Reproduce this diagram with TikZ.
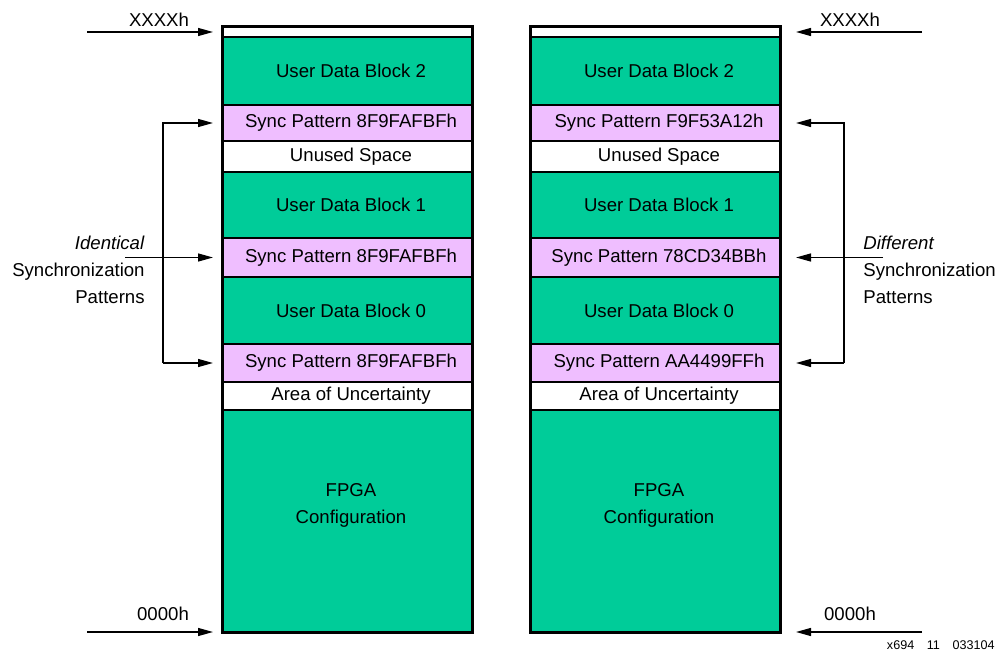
\documentclass[tikz,border=0pt]{standalone}
\usepackage{fontspec}
\setmainfont{Liberation Sans}
\usepackage{tikz}
\usetikzlibrary{arrows.meta, positioning}
\definecolor{BlockGreen}{HTML}{00CC99}
\definecolor{SyncPink}{HTML}{EFBEFF}

\begin{document}
\begin{tikzpicture}[
  x=0.5pt, y=-0.5pt,
  every node/.style={font=\fontsize{9.3}{13.5}\selectfont},
  cell/.style={rectangle, draw, line width=1pt, inner sep=0pt, outer sep=0pt,
               minimum width=125pt, align=center,
               execute at begin node={\hspace*{4pt}}},
  udb/.style={cell, fill=BlockGreen},
  sync/.style={cell, fill=SyncPink},
  blank/.style={cell, fill=white},
  frame/.style={draw, line width=1.5pt},
  arr/.style={-{Triangle[length=7.5pt, width=4pt]}, line width=0.65pt},
  addr/.style={inner sep=0pt},
  note/.style={inner sep=0pt}
]
\useasboundingbox (0,0) rectangle (996,652);

% Left column
\node[blank, minimum height=5pt, anchor=north west] (topL) at (222,27) {};
\node[udb, minimum height=34pt, below=0pt of topL] (udbTwoL) {User Data Block 2};
\node[sync, minimum height=18pt, below=0pt of udbTwoL] (syncAL) {Sync Pattern 8F9FAFBFh};
\node[blank, minimum height=15.5pt, below=0pt of syncAL] (unusedL) {Unused Space};
\node[udb, minimum height=33pt, below=0pt of unusedL] (udbOneL) {User Data Block 1};
\node[sync, minimum height=19.5pt, below=0pt of udbOneL] (syncBL) {Sync Pattern 8F9FAFBFh};
\node[udb, minimum height=33.5pt, below=0pt of syncBL] (udbZeroL) {User Data Block 0};
\node[sync, minimum height=19pt, below=0pt of udbZeroL] (syncCL) {Sync Pattern 8F9FAFBFh};
\node[blank, minimum height=14pt, below=0pt of syncCL] (areaL) {Area of Uncertainty};
\node[udb, minimum height=111pt, below=0pt of areaL,
      label={[align=center, xshift=2pt, yshift=8pt]center:FPGA\\Configuration}] (fpgaL) {};
\draw[frame] (topL.north west) rectangle (fpgaL.south east);

% Right column
\node[blank, minimum height=5pt, anchor=north west] (topR) at (530,27) {};
\node[udb, minimum height=34pt, below=0pt of topR] (udbTwoR) {User Data Block 2};
\node[sync, minimum height=18pt, below=0pt of udbTwoR] (syncAR) {Sync Pattern F9F53A12h};
\node[blank, minimum height=15.5pt, below=0pt of syncAR] (unusedR) {Unused Space};
\node[udb, minimum height=33pt, below=0pt of unusedR] (udbOneR) {User Data Block 1};
\node[sync, minimum height=19.5pt, below=0pt of udbOneR] (syncBR) {Sync Pattern 78CD34BBh};
\node[udb, minimum height=33.5pt, below=0pt of syncBR] (udbZeroR) {User Data Block 0};
\node[sync, minimum height=19pt, below=0pt of udbZeroR] (syncCR) {Sync Pattern AA4499FFh};
\node[blank, minimum height=14pt, below=0pt of syncCR] (areaR) {Area of Uncertainty};
\node[udb, minimum height=111pt, below=0pt of areaR,
      label={[align=center, xshift=2pt, yshift=8pt]center:FPGA\\Configuration}] (fpgaR) {};
\draw[frame] (topR.north west) rectangle (fpgaR.south east);

% Addresses
\node[addr] (hiL) at (159,20) {XXXXh};
\node[addr] (loL) at (163,614) {0000h};
\node[addr] (hiR) at (850,20) {XXXXh};
\node[addr] (loR) at (850,614) {0000h};
\coordinate (hiStartL) at (87,32);
\coordinate (loStartL) at (87,632);
\coordinate (hiStartR) at (922,32);
\coordinate (loStartR) at (922,632);

\draw[arr, shorten >=4.5pt] (hiStartL) -- (topL.west);
\draw[arr, shorten >=4.5pt] (loStartL) -- (fpgaL.south west);
\draw[arr, shorten >=8pt] (hiStartR) -- (topR.east);
\draw[arr, shorten >=8pt] (loStartR) -- (fpgaR.south east);

% Left bracket
\coordinate (brL) at (163,0);
\coordinate (midL) at (125,0);
\draw[arr, shorten >=4.5pt] (brL |- syncCL.west) -- (brL |- syncAL.west) -- (syncAL.west);
\draw[arr, shorten >=4.5pt] (brL |- syncCL.west) -- (syncCL.west);
\draw[arr, shorten >=4.5pt] (midL |- syncBL.west) -- (syncBL.west);
\node[note, align=right, anchor=east] (sameL) at (145,270) {\textit{Identical}\\Synchronization\\Patterns};

% Right bracket
\coordinate (brR) at (844,0);
\coordinate (midR) at (883,0);
\draw[arr, shorten >=8pt] (brR |- syncCR.east) -- (brR |- syncAR.east) -- (syncAR.east);
\draw[arr, shorten >=8pt] (brR |- syncCR.east) -- (syncCR.east);
\draw[arr, shorten >=8pt] (midR |- syncBR.east) -- (syncBR.east);
\node[note, align=left, anchor=west] (diffR) at (863,270) {\textit{Different}\\Synchronization\\Patterns};

\node[note, anchor=east, font=\fontsize{6.3}{7}\selectfont] (figId) at (995,645) {x694\quad 11\quad 033104};

\end{tikzpicture}
\end{document}
